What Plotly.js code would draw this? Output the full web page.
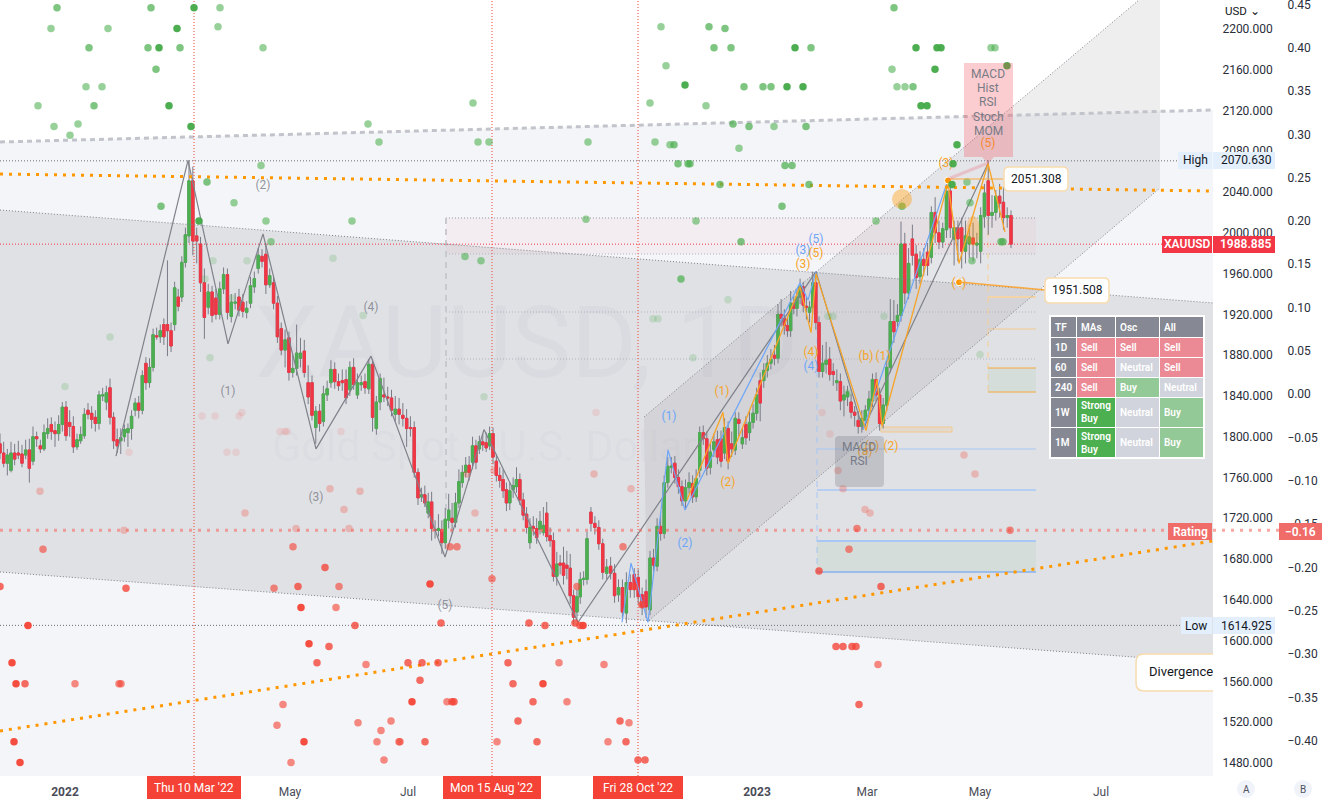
<!DOCTYPE html>
<html>
<head>
<meta charset="utf-8">
<title>XAUUSD 1D</title>
<script src="https://cdn.plot.ly/plotly-3.0.1.min.js"></script>
<style>
  html, body { margin: 0; padding: 0; background: #fff; overflow: hidden; }
  #chart { width: 1322px; height: 799px; }
</style>
</head>
<body>
<div id="chart"></div>
<script>
// candles, USD
const candleOpen = [
  1793,1784,1774,1767,1784,1784,1783,1782,1787,1776,1800,1791,1788,1803,1812,1806,1803,1812,1829,1814,
  1810,1790,1796,1801,1826,1823,1819,1813,1840,1834,1848,1819,1797,1796,1800,1804,1808,1826,1833,1826,
  1872,1853,1868,1899,1898,1910,1910,1904,1910,1937,1937,1971,1997,2051,1997,1989,1951,1927,1942,1936,
  1920,1945,1959,1918,1931,1937,1932,1922,1931,1947,1965,1977,1979,1949,1951,1931,1906,1885,1897,1863,
  1867,1877,1884,1853,1853,1809,1825,1815,1841,1853,1866,1854,1855,1856,1846,1868,1841,1851,1854,1847,
  1871,1808,1834,1841,1839,1838,1822,1827,1821,1818,1809,1809,1765,1741,1743,1725,1736,1709,1708,1709,
  1696,1718,1720,1716,1735,1755,1765,1772,1775,1791,1788,1795,1794,1791,1803,1776,1762,1758,1748,1735,
  1748,1751,1758,1738,1724,1696,1712,1710,1709,1706,1725,1703,1698,1663,1676,1676,1674,1671,1644,1628,
  1643,1660,1660,1726,1715,1711,1695,1666,1673,1666,1645,1652,1627,1657,1665,1662,1645,1648,1630,1681,
  1673,1712,1705,1755,1770,1774,1760,1751,1737,1750,1754,1741,1767,1804,1798,1770,1787,1797,1798,1784,
  1808,1793,1787,1817,1793,1812,1804,1814,1823,1855,1855,1865,1872,1880,1877,1920,1916,1909,1904,1931,
  1926,1937,1947,1928,1922,1927,1951,1912,1864,1871,1876,1864,1853,1854,1836,1839,1834,1824,1816,1810,
  1816,1826,1835,1856,1841,1813,1831,1868,1913,1913,1919,1989,1941,1994,1979,1957,1974,1981,1976,2020,
  2000,1991,2003,2041,1994,2005,2005,1982,1989,1995,1988,1982,2016,2051,2017,2020,2036,2030,2015,2017
];
const candleHigh = [
  1803,1795,1788,1795,1793,1796,1792,1797,1798,1810,1805,1797,1812,1818,1819,1815,1821,1834,1835,1826,
  1820,1803,1810,1828,1833,1830,1826,1845,1848,1850,1857,1824,1808,1808,1812,1813,1826,1838,1840,1865,
  1878,1877,1906,1907,1910,1916,1973,1912,1952,1945,1977,2005,2071,2065,2005,1996,1965,1950,1948,1945,
  1952,1966,1965,1940,1941,1945,1940,1933,1957,1962,1985,1984,1990,1965,1957,1938,1912,1905,1903,1880,
  1910,1897,1895,1870,1860,1830,1832,1850,1855,1875,1873,1862,1866,1866,1874,1877,1862,1860,1862,1876,
  1876,1840,1862,1858,1849,1846,1840,1838,1833,1827,1820,1815,1769,1750,1752,1745,1746,1718,1724,1718,
  1730,1744,1735,1745,1768,1772,1780,1781,1800,1797,1801,1803,1804,1810,1809,1783,1770,1768,1755,1755,
  1760,1770,1764,1745,1731,1720,1722,1720,1727,1731,1736,1711,1706,1687,1684,1692,1688,1685,1650,1650,
  1667,1668,1707,1731,1722,1718,1700,1680,1682,1675,1660,1660,1667,1665,1671,1670,1652,1660,1688,1690,
  1720,1723,1762,1780,1780,1781,1768,1757,1758,1765,1762,1768,1810,1811,1805,1793,1803,1806,1806,1818,
  1815,1805,1824,1824,1808,1820,1825,1832,1848,1863,1872,1880,1886,1890,1930,1935,1925,1917,1943,1938,
  1945,1955,1952,1937,1933,1962,1961,1918,1890,1893,1888,1872,1866,1862,1850,1850,1842,1830,1825,1826,
  1831,1845,1862,1863,1848,1838,1875,1935,1934,1930,2011,2000,1985,2008,1988,1982,1985,1990,2026,2035,
  2012,2010,2047,2051,2012,2012,2015,2012,2008,2010,2000,2025,2048,2071,2037,2042,2048,2045,2025,2022
];
const candleLow = [
  1778,1770,1762,1765,1772,1778,1770,1778,1755,1772,1790,1784,1786,1798,1797,1790,1796,1805,1796,1800,
  1784,1787,1793,1798,1817,1808,1805,1807,1835,1826,1812,1788,1784,1783,1795,1790,1797,1820,1818,1822,
  1846,1848,1864,1895,1892,1890,1879,1883,1904,1923,1932,1966,1990,1978,1970,1942,1896,1920,1912,1915,
  1915,1940,1915,1912,1925,1918,1917,1916,1926,1941,1960,1966,1940,1946,1925,1892,1880,1868,1855,1858,
  1860,1868,1858,1832,1816,1793,1805,1810,1835,1848,1847,1845,1845,1832,1840,1846,1837,1845,1842,1842,
  1805,1802,1826,1834,1830,1820,1815,1812,1810,1790,1800,1760,1733,1736,1731,1720,1698,1700,1702,1685,
  1690,1710,1705,1711,1730,1750,1760,1757,1768,1768,1783,1786,1785,1787,1773,1756,1750,1740,1727,1728,
  1740,1745,1733,1718,1705,1690,1703,1695,1704,1703,1697,1692,1658,1654,1665,1655,1660,1636,1616,1620,
  1636,1654,1655,1707,1704,1689,1660,1660,1660,1637,1638,1622,1617,1642,1642,1636,1625,1622,1625,1668,
  1668,1698,1700,1750,1764,1754,1744,1732,1730,1744,1735,1736,1760,1792,1762,1763,1780,1773,1770,1778,
  1768,1780,1782,1800,1788,1792,1796,1808,1816,1815,1848,1858,1866,1870,1872,1908,1900,1898,1898,1920,
  1918,1930,1922,1915,1912,1920,1905,1858,1858,1862,1855,1850,1845,1826,1820,1830,1818,1810,1803,1804,
  1810,1820,1829,1835,1806,1808,1825,1863,1892,1908,1913,1930,1935,1968,1945,1950,1958,1958,1970,1990,
  1984,1985,1995,1995,1968,1972,1965,1970,1975,1972,1975,1970,2005,1998,2005,2012,2015,2003,2005,1985
];
const candleClose = [
  1784,1774,1782,1784,1778,1782,1774,1787,1769,1800,1798,1788,1804,1808,1805,1803,1812,1829,1801,1810,
  1790,1797,1802,1822,1822,1817,1813,1841,1841,1843,1819,1796,1791,1799,1807,1808,1820,1833,1826,1860,
  1853,1868,1900,1898,1904,1898,1904,1889,1946,1928,1971,1998,2051,1992,1992,1951,1917,1942,1919,1920,
  1945,1959,1922,1932,1932,1924,1923,1926,1948,1955,1978,1972,1949,1958,1931,1898,1885,1895,1863,1867,
  1882,1882,1863,1839,1821,1825,1813,1842,1847,1866,1854,1850,1853,1838,1868,1851,1853,1853,1848,1871,
  1819,1834,1857,1839,1838,1826,1827,1822,1818,1808,1808,1765,1740,1743,1735,1736,1710,1708,1710,1696,
  1719,1728,1716,1735,1756,1765,1772,1765,1791,1775,1795,1792,1789,1803,1780,1762,1757,1747,1735,1747,
  1752,1758,1738,1723,1711,1711,1710,1701,1717,1713,1702,1698,1663,1675,1674,1664,1671,1644,1623,1643,
  1660,1661,1700,1715,1711,1695,1667,1672,1666,1644,1652,1628,1657,1650,1650,1643,1633,1633,1681,1674,
  1712,1705,1755,1771,1771,1760,1751,1737,1750,1755,1741,1759,1804,1798,1769,1785,1795,1780,1776,1809,
  1776,1788,1818,1813,1799,1799,1814,1823,1841,1833,1865,1872,1876,1877,1920,1916,1909,1904,1931,1926,
  1937,1947,1929,1927,1927,1951,1912,1864,1872,1875,1861,1861,1855,1835,1841,1844,1824,1821,1810,1818,
  1826,1837,1856,1841,1813,1831,1868,1913,1903,1919,1989,1941,1970,1978,1956,1974,1968,1968,2020,2000,
  1991,2004,2041,2005,2005,1994,1982,1997,1996,1989,1990,2017,2039,2017,2020,2036,2029,2015,2017,1988.885
];
// candle number -> time slot where the chart has anchors (holidays make the spacing uneven)
const anchorCandle = [0,30,52,84,112,134,162,178,198,214,227,250,279];
const anchorSlot = [0,27.5,47.25,78,104.5,123.25,146.75,162.5,180.25,194.5,204.75,225.25,252.75];

// time axis labels
const timeTickSlot = [16.25,72.5,102,189.25,216.75,245,275.25];
const timeTickText = ['<b>2022</b>','May','Jul','<b>2023</b>','Mar','May','Jul'];
const markedDateSlot = [48.5,123,159.5];
const markedDateText = ["Thu 10 Mar '22","Mon 15 Aug '22","Fri 28 Oct '22"];

const priceTicks = [2200,2160,2120,2080,2040,2000,1960,1920,1880,1840,1800,1760,1720,1680,1640,1600,1560,1520,1480];
const ratingTicks = [0.45,0.4,0.35,0.3,0.25,0.2,0.15,0.1,0.05,0,-0.05,-0.1,-0.15,-0.2,-0.25,-0.3,-0.35,-0.4];

const highPrice = 2070.63;
const lowPrice = 1614.925;
const lastPrice = 1988.885;
const ratingNow = -0.157;

// wave lines
const grayWaveSlot = [29,47,57,65.75,79,92.75,111.25,121,144.5,204,215.75,247];
const grayWaveUsd = [1781,2071,1891,1999,1788,1879,1682,1807,1618,1962,1807,2068];
const blueWaveSlot = [155.5,157.75,162,167,171.25,200,202,204];
const blueWaveUsd = [1618,1676,1618,1787,1728,1951,1934,1962];
const blueWave2Slot = [215.75,236.75];
const blueWave2Usd = [1807,2049];
const orangeWaveSlot = [171.75,180.75,182,200,202.75,204,216.5,219.25,220.5,237,239.75,247,251.25];
const orangeWaveUsd = [1738,1824,1774,1947,1902,1960,1806,1856,1810,2049,1970,2068,2001];

const grayLabels = ['(1)','(2)','(3)','(4)','(5)'];
const grayLabelSlot = [57,65.75,79,92.75,111.25];
const grayLabelUsd = [1844,2046,1740,1926,1634];
const blueLabels = ['(1)','(2)','(3)','(4)','(5)'];
const blueLabelSlot = [167.25,171.25,200.75,202.75,204];
const blueLabelUsd = [1819,1695,1982,1868,1993];
const orangeLabels = ['(1)','(2)','(3)','(4)','(5)','(a)','(b)','(c)','(1)','(2)','(3)','(4)','(5)'];
const orangeLabelSlot = [180.5,182,200.75,202.75,204,216.25,216.5,218,220.75,222.75,236.5,239.75,247];
const orangeLabelUsd = [1844,1755,1968,1882,1979,1785,1878,1790,1878,1790,2068,1950,2087];

// long trend lines
const slotEnds = [0,303.25];
const ceilingUsd = [2089.1,2120.5];
const fallingTopUsd = [2022.4,1931.2];
const fallingBottomUsd = [1667.3,1578];
const resistanceUsd = [2057.7,2041];
const supportUsd = [1511.3,1697.7];
const risingTopSlot = [161,284.75];
const risingTopUsd = [1819.3,2228.4];
const risingBottomSlot = [161.75,290];
const risingBottomUsd = [1618.2,2044];

// rating signals, split by signal strength
const buyStrongSlot = [48.5,44.25,39.75,42.25,47.75,49.75,198.75,229,234.25,235.25,233.75,251.75,196.75,200.75,230.25,231.75,238.25,239.25,238,171.25];
const buyStrongRating = [.446,.422,.4,.333,.309,.2,.4,.4,.4,.4,.375,.379,.355,.355,.333,.333,.266,.288,.242,.357];
const buyMidSlot = [14.25,37.75,22.25,37,45,39,23.5,51.75,40.25,177.25,181.25,178.5,182.75,202.75,186,190.75,192.75,228.25,183.25,187.25,201.5,168.5,169.5,172,172.5,196.25,198,180,202.25,195.5,225.5,223.5,250.25,250.75,185.25,170.25];
const buyMidRating = [.446,.446,.4,.4,.4,.375,.333,.245,.217,.424,.422,.4,.4,.4,.355,.355,.355,.355,.312,.309,.309,.288,.266,.266,.266,.264,.264,.242,.242,.217,.217,.446,.176,.176,.176,.133];
const buyLightSlot = [55,12.75,27,54.5,65.75,21.5,25.5,9.5,13.5,19.5,17.5,92,94.75,118.25,119.5,122.25,65.25,58.5,66.5,88,67.75,165.25,166.5,223,224.25,226.25,162.5,176.5,193.5,147,163.75,167.5,184.75,247.75,248.75,241.75,242.5,146.5,174,219,243,116.25,120.25];
const buyLightRating = [.446,.422,.422,.424,.4,.355,.355,.333,.309,.312,.299,.312,.291,.336,.291,.291,.264,.221,.2,.2,.176,.424,.379,.375,.355,.355,.336,.333,.309,.291,.291,.288,.284,.4,.4,.245,.221,.202,.2,.2,.154,.159,.154];
const buyFaintSlot = [53.25,61.75,83.25,51.25,58,90.75,182,163.25,164.5,27.5,52.5,173.25,207,208.25,221,16.25,121,212,245];
const buyFaintRating = [.154,.154,.157,.133,.111,.091,.109,.087,.087,.066,.042,.042,.09,.09,.09,.009,-.003,.002,.046];

const sellStrongSlot = [3.5,5,76,77.25,75.25,103,107.5,145.75,7,3,4,135.75];
const sellStrongRating = [-.401,-.425,-.401,-.288,-.246,-.355,-.219,-.267,-.267,-.31,-.334,-.334];
const sellMidSlot = [81.25,0,31.5,74.5,88.75,110.25,132.25,136.25,143.75,145,82.25,79.25,102,105.5,109.5,127,6.25,105,128.25,113,113.5,133.25,129.5,155,106.25,134.25,156.5,159.5,161.25,160.5,204.75,209,210.75,213,214,214.75,220.25];
const sellMidRating = [-.2,-.222,-.224,-.222,-.267,-.264,-.264,-.267,-.264,-.267,-.291,-.31,-.31,-.31,-.31,-.31,-.334,-.33,-.334,-.355,-.355,-.355,-.377,-.377,-.401,-.401,-.401,-.422,-.422,-.243,-.204,-.291,-.291,-.291,-.291,-.358,-.222];
const sellLightSlot = [73.25,10.75,68.5,84.75,84,91.5,139.75,151,18.75,29.75,30.25,70.75,111.75,141.75,97.75,89.5,157.25,69.25,95.25,94.25,99.75,100,124.25,152,72.75,96,112.5,114.25,155.75,123,144.25,158.5,214.25,212.25,252.5,219.5];
const sellLightRating = [-.176,-.179,-.224,-.222,-.246,-.312,-.31,-.312,-.334,-.334,-.334,-.358,-.355,-.355,-.377,-.379,-.379,-.382,-.388,-.401,-.401,-.401,-.401,-.401,-.425,-.422,-.176,-.176,-.176,-.213,-.222,-.222,-.155,-.179,-.157,-.312];
const sellFaintSlot = [10,82.5,90,61.25,86,74,87.25,31,148.5,157.75,118.75,116.75,123.5,210.75,216.25,217.5,209.5,241,243.75];
const sellFaintRating = [-.112,-.109,-.112,-.137,-.133,-.155,-.155,-.157,-.092,-.109,-.137,-.092,-.088,-.109,-.133,-.137,-.088,-.07,-.092];
const sellTraceSlot = [32.25,50.5,53.75,59.75,60.5,70,71.25,71.75,85.25,56.75,59,149,205.5,207.5];
const sellTraceRating = [-.067,-.025,-.025,-.025,-.021,-.043,-.043,-.043,-.043,-.067,-.067,-.021,-.021,-.046];

// technical ratings table
const tableHead = ['TF','MAs','Osc','All'];
const tableFrames = ['1D','60','240','1W','1M'];
const tableMAs = ['Sell','Sell','Sell','Strong<br>Buy','Strong<br>Buy'];
const tableOsc = ['Sell','Neutral','Buy','Neutral','Neutral'];
const tableAll = ['Sell','Sell','Neutral','Buy','Buy'];
const ratingColors = {'Sell':'#eb8a94','Neutral':'#d1d4dc','Buy':'#93c997','Strong<br>Buy':'#4caf50'};

// ---- scale helpers (pixels -> axis units)
const W = 1322, H = 799, plotRight = 1213, plotBottom = 776;
const toSlot = px => px / 4;
const toUsd = py => 2228.4 - 0.981 * py;
const paperX = px => px / W;
const paperY = py => 1 - py / H;
const priceRange = [toUsd(plotBottom), toUsd(0)];
const ratingRange = [-0.4406, 0.455];
const textFont = 'Roboto, "Liberation Sans", sans-serif';

function slotOfCandle(i) {
  let k = 0;
  while (k < anchorCandle.length - 2 && i > anchorCandle[k + 1]) k++;
  const t = (i - anchorCandle[k]) / (anchorCandle[k + 1] - anchorCandle[k]);
  return anchorSlot[k] + t * (anchorSlot[k + 1] - anchorSlot[k]);
}
const candleSlot = candleOpen.map((_, i) => slotOfCandle(i));

var shapes = [];
var annotations = [];

function dataPoly(points, fill, layer) {
  const d = points.map((p, i) => (i ? 'L' : 'M') + toSlot(p[0]) + ',' + toUsd(p[1])).join(' ') + ' Z';
  shapes.push({type:'path', xref:'x', yref:'y', path:d, fillcolor:fill, line:{width:0}, layer:layer || 'below'});
}
function dataRect(x0, y0, x1, y1, fill, border, layer) {
  shapes.push({type:'rect', xref:'x', yref:'y', x0:toSlot(x0), x1:toSlot(x1), y0:toUsd(y0), y1:toUsd(y1),
    fillcolor:fill, line:{width:border ? 1 : 0, color:border || 'rgba(0,0,0,0)'}, layer:layer || 'below'});
}
function dataLine(x0, y0, x1, y1, color, width, dash, layer) {
  shapes.push({type:'line', xref:'x', yref:'y', x0:toSlot(x0), x1:toSlot(x1), y0:toUsd(y0), y1:toUsd(y1),
    line:{color:color, width:width, dash:dash || 'solid'}, layer:layer || 'below'});
}
function pageRect(x0, y0, x1, y1, fill, border, radius) {
  const a = paperX(x0), b = paperX(x1), c = paperY(y0), d = paperY(y1);
  const rx = (radius || 0) / W, ry = (radius || 0) / H;
  const path = radius
    ? `M${a + rx},${c} L${b - rx},${c} Q${b},${c} ${b},${c - ry} L${b},${d + ry} Q${b},${d} ${b - rx},${d} L${a + rx},${d} Q${a},${d} ${a},${d + ry} L${a},${c - ry} Q${a},${c} ${a + rx},${c} Z`
    : `M${a},${c} L${b},${c} L${b},${d} L${a},${d} Z`;
  shapes.push({type:'path', xref:'paper', yref:'paper', path:path, fillcolor:fill,
    line:{width:border ? 1.5 : 0, color:border || 'rgba(0,0,0,0)'}, layer:'above'});
}
// box cut off by the right edge of the plot: rounded on the left only, no stroke on the right
function pageTab(x0, y0, x1, y1, fill, border, radius) {
  const a = paperX(x0), b = paperX(x1), c = paperY(y0), d = paperY(y1);
  const rx = radius / W, ry = radius / H;
  const outline = `M${b},${c} L${a + rx},${c} Q${a},${c} ${a},${c - ry} L${a},${d + ry} Q${a},${d} ${a + rx},${d} L${b},${d}`;
  shapes.push({type:'path', xref:'paper', yref:'paper', path:outline + ' Z', fillcolor:fill, line:{width:0}, layer:'above'});
  shapes.push({type:'path', xref:'paper', yref:'paper', path:outline, line:{width:1.5, color:border}, layer:'above'});
}
function pageText(text, px, py, size, color, anchor, weight) {
  annotations.push({text:text, xref:'paper', yref:'paper', x:paperX(px), y:paperY(py), showarrow:false,
    xanchor:anchor || 'center', yanchor:'middle', align:anchor || 'center', borderpad:0, captureevents:false,
    font:{family:textFont, size:size, color:color, weight:weight || 400}});
}

// ---- backgrounds
dataPoly([[0,0],[1213,0],[1213,110],[0,142]], '#ffffff');
dataPoly([[0,210],[1213,303],[1213,663],[0,572]], '#e0e1e5');
dataPoly([[644,417],[1139,0],[1160,0],[1160,188],[647,622]], 'rgba(120,123,134,0.13)');
dataRect(446, 218, 1036, 254, 'rgba(242,54,69,0.04)');
dataLine(446, 218, 1036, 218, '#9598a1', 1, '1px,2px');
dataLine(446, 254, 1036, 254, '#b2b5be', 1, '1px,2px');
dataLine(446, 312, 1036, 312, '#b2b5be', 1, '1px,2px');
dataLine(446, 359, 1036, 359, '#b2b5be', 1, '1px,2px');
dataLine(446, 218, 446, 510, '#c8cad0', 2, '6px,5px');

// target boxes of the two position tools
dataLine(817, 272, 817, 572, '#a8c7f5', 1, '6px,5px');
dataLine(817, 449, 1036, 449, '#a8c7f5', 1);
dataLine(817, 490, 1036, 490, '#a8c7f5', 1.5);
dataRect(817, 541, 1036, 572, 'rgba(76,175,80,0.08)');
dataLine(817, 541, 1036, 541, '#a8c7f5', 2);
dataLine(817, 572, 1036, 572, '#5b9cf6', 1);
dataLine(988, 165, 988, 392, '#f7cf94', 1, '6px,5px');
dataLine(988, 297, 1036, 297, '#f3d4a8', 2);
dataLine(988, 329, 1036, 329, '#f3c98f', 1);
dataRect(988, 368, 1036, 392, 'rgba(76,175,80,0.08)');
dataLine(988, 368, 1036, 368, '#f8a83c', 1);
dataLine(988, 392, 1036, 392, '#f8a83c', 1);
dataRect(881, 427, 952, 432, 'rgba(255,152,0,0.1)', '#f3c98f');

// price lines
function priceLine(usd, pxEnd, color) {
  shapes.push({type:'line', xref:'x', yref:'y', x0:0, x1:toSlot(pxEnd), y0:usd, y1:usd,
    line:{color:color, width:1, dash:'1px,2px'}, layer:'below'});
}
priceLine(highPrice, 1178, '#6a6d78');
priceLine(lowPrice, 1181, '#6a6d78');
priceLine(lastPrice, 1162, '#f23645');
// rating line, the part that runs on between the two scales
shapes.push({type:'line', xref:'paper', yref:'y2', x0:plotRight / W, x1:1, y0:ratingNow, y1:ratingNow,
  line:{color:'rgba(244,110,100,0.6)', width:3, dash:'3px,6px'}, layer:'below'});

// highlight circles
shapes.push({type:'circle', xref:'x', yref:'y', x0:toSlot(892), x1:toSlot(912), y0:toUsd(189), y1:toUsd(209),
  fillcolor:'rgba(255,152,0,0.4)', line:{width:0}, layer:'above'});
shapes.push({type:'circle', xref:'x', yref:'y', x0:toSlot(966), x1:toSlot(980), y0:toUsd(216), y1:toUsd(246),
  fillcolor:'rgba(255,152,0,0.3)', line:{width:0}, layer:'above'});

// watermark
pageText('XAUUSD, 1D', 526, 342, 100, 'rgba(120,123,134,0.05)');
pageText('Gold Spot / U.S. Dollar', 484, 446, 43, 'rgba(120,123,134,0.05)');

// signal boxes on the chart
dataPoly([[964,63],[1013,63],[1013,157],[994,157],[988,163],[982,157],[964,157]], 'rgba(242,54,69,0.25)', 'above');
['MACD','Hist','RSI','Stoch','MOM'].forEach((t, i) => pageText(t, 988, 74 + i * 14.2, 12, '#787b86'));
pageRect(835, 436, 884, 487, 'rgba(120,123,134,0.3)', null, 4);
pageText('MACD', 859, 447, 12, '#787b86');
pageText('RSI', 859, 461, 12, '#787b86');

// callouts
dataLine(948, 179, 1003, 179, '#f8a83c', 1, 'solid', 'above');
dataLine(959, 282, 1045, 290, '#f8a83c', 1.5, 'solid', 'above');
dataLine(948, 179, 988, 163, 'rgba(242,54,69,0.2)', 3, 'solid', 'above');
pageRect(1004, 167, 1068, 191, '#ffffff', '#f8dcae', 5);
pageText('2051.308', 1036, 179, 12, '#131722');
pageRect(1045, 278, 1109, 303, '#ffffff', '#f8dcae', 5);
pageText('1951.508', 1077, 290.5, 12, '#131722');
pageTab(1136, 654, 1213, 691, '#ffffff', '#f8dcae', 8);
pageText('Divergence', 1148, 671, 13, '#131722', 'left');

// axis labels on the right
pageRect(1178, 152, 1212, 169, '#e3effd');
pageText('High', 1195, 160.5, 12, '#131722');
pageRect(1213, 152, 1275, 169, '#e3effd');
pageText(highPrice.toFixed(3), 1246, 160.5, 12, '#131722');
pageRect(1181, 617, 1212, 634, '#e3effd');
pageText('Low', 1196, 625.5, 12, '#131722');
pageRect(1213, 617, 1275, 634, '#e3effd');
pageText(lowPrice.toFixed(3), 1246, 625.5, 12, '#131722');
pageRect(1162, 236, 1212, 253, '#f23645');
pageText('XAUUSD', 1187, 244.5, 12, '#ffffff', 'center', 600);
pageRect(1213, 236, 1275, 253, '#f23645');
pageText(lastPrice.toFixed(3), 1246, 244.5, 12, '#ffffff', 'center', 600);
pageRect(1168, 523, 1212, 540, '#ef6c69');
pageText('Rating', 1190, 531.5, 12, '#ffffff', 'center', 600);
pageRect(1279, 523, 1322, 540, '#ef6c69');
pageText('\u22120.16', 1300, 531.5, 12, '#ffffff', 'center', 600);
pageText('USD \u2304', 1224, 11, 11.5, '#131722', 'left');

// dates under the axis
markedDateSlot.forEach((s, i) => {
  const cx = s * 4, half = [47, 49, 45][i];
  pageRect(cx - half, 776, cx + half, 799, '#f44336');
  pageText(markedDateText[i], cx, 788, 12, '#ffffff');
});

// A / B buttons
[['A',1246],['B',1303]].forEach(b => {
  shapes.push({type:'circle', xref:'paper', yref:'paper', x0:paperX(b[1] - 9), x1:paperX(b[1] + 9),
    y0:paperY(798), y1:paperY(780), fillcolor:'#f0f3fa', line:{width:0}, layer:'above'});
  pageText(b[0], b[1], 789.5, 10, '#50535e');
});

// ratings table
pageRect(1049, 315, 1205, 459, '#ffffff');
const colEdges = [[1051,1076],[1077,1115],[1116,1159],[1160,1203]];
const rowEdges = [[317,337],[338,357],[358,377],[378,397],[398,427],[428,457]];
function tableCell(col, row, text, fill) {
  const c = colEdges[col], r = rowEdges[row];
  pageRect(c[0], r[0], c[1], r[1], fill);
  pageText(text, c[0] + 3, (r[0] + r[1]) / 2, 10, '#ffffff', 'left', 600);
}
tableHead.forEach((t, c) => tableCell(c, 0, t, '#868993'));
tableFrames.forEach((t, r) => {
  tableCell(0, r + 1, t, '#868993');
  tableCell(1, r + 1, tableMAs[r], ratingColors[tableMAs[r]]);
  tableCell(2, r + 1, tableOsc[r], ratingColors[tableOsc[r]]);
  tableCell(3, r + 1, tableAll[r], ratingColors[tableAll[r]]);
});

// ---- traces
const UP = '#4caf50', DOWN = '#f23645', WICK = '#787b86';

function trendTrace(slots, usds, color, width, dash) {
  return {type:'scatter', mode:'lines', x:slots, y:usds, hoverinfo:'skip', showlegend:false,
    line:{color:color, width:width, dash:dash}};
}
function labelTrace(slots, usds, texts, color) {
  return {type:'scatter', mode:'text', x:slots, y:usds, text:texts, hoverinfo:'skip', showlegend:false,
    textposition:'middle center', textfont:{family:textFont, size:12, color:color}};
}
function dotTrace(slots, ratings, color) {
  return {type:'scatter', mode:'markers', x:slots, y:ratings, yaxis:'y2', hoverinfo:'skip', showlegend:false,
    marker:{size:7.5, color:color, line:{width:0}}};
}
function eventTrace(slot) {
  return trendTrace([slot, slot], priceRange, '#f44336', 1, '1px,2px');
}

const traces = [
  trendTrace(slotEnds, fallingTopUsd, '#7d8089', 1, '1px,2px'),
  trendTrace(slotEnds, fallingBottomUsd, '#7d8089', 1, '1px,2px'),
  trendTrace(risingTopSlot, risingTopUsd, '#7d8089', 1, '1px,2px'),
  trendTrace(risingBottomSlot, risingBottomUsd, '#7d8089', 1, '1px,2px'),
  trendTrace(slotEnds, ceilingUsd, '#c2c4cb', 3, '5px,4px'),
  ...markedDateSlot.map(eventTrace),
  // wicks first, gray, then the bodies on top
  {type:'candlestick', x:candleSlot, open:candleOpen, high:candleHigh, low:candleLow, close:candleClose,
    hoverinfo:'skip', showlegend:false, whiskerwidth:0,
    increasing:{line:{color:WICK, width:1}, fillcolor:WICK},
    decreasing:{line:{color:WICK, width:1}, fillcolor:WICK}},
  {type:'candlestick', x:candleSlot, open:candleOpen, close:candleClose,
    high:candleOpen.map((o, i) => Math.max(o, candleClose[i])),
    low:candleOpen.map((o, i) => Math.min(o, candleClose[i])),
    hoverinfo:'skip', showlegend:false, whiskerwidth:0,
    increasing:{line:{color:UP, width:1}, fillcolor:UP},
    decreasing:{line:{color:DOWN, width:1}, fillcolor:DOWN}},
  trendTrace(grayWaveSlot, grayWaveUsd, '#7f828b', 1.2, 'solid'),
  trendTrace(blueWaveSlot, blueWaveUsd, '#6ea6f7', 1.2, 'solid'),
  trendTrace(blueWave2Slot, blueWave2Usd, '#6ea6f7', 1.2, 'solid'),
  trendTrace(orangeWaveSlot, orangeWaveUsd, '#f7a427', 1.3, 'solid'),
  trendTrace(slotEnds, resistanceUsd, '#ff9800', 3, '3px,6px'),
  trendTrace(slotEnds, supportUsd, '#ff9800', 3, '3px,6px'),
  labelTrace(grayLabelSlot, grayLabelUsd, grayLabels, 'rgba(120,123,134,0.8)'),
  labelTrace(blueLabelSlot, blueLabelUsd, blueLabels, '#6ea6f7'),
  labelTrace(orangeLabelSlot, orangeLabelUsd, orangeLabels, '#f7a427'),
  // rating level and the signals on the rating scale
  {type:'scatter', mode:'lines', x:slotEnds, y:[ratingNow, ratingNow], yaxis:'y2', hoverinfo:'skip', showlegend:false,
    line:{color:'rgba(244,110,100,0.6)', width:3, dash:'3px,6px'}},
  dotTrace(buyStrongSlot, buyStrongRating, 'rgba(67,170,72,0.95)'),
  dotTrace(buyMidSlot, buyMidRating, 'rgba(76,175,80,0.72)'),
  dotTrace(buyLightSlot, buyLightRating, 'rgba(76,175,80,0.58)'),
  dotTrace(buyFaintSlot, buyFaintRating, 'rgba(76,175,80,0.22)'),
  dotTrace(sellStrongSlot, sellStrongRating, 'rgba(244,67,54,0.95)'),
  dotTrace(sellMidSlot, sellMidRating, 'rgba(244,67,54,0.78)'),
  dotTrace(sellLightSlot, sellLightRating, 'rgba(244,67,54,0.62)'),
  dotTrace(sellFaintSlot, sellFaintRating, 'rgba(244,67,54,0.28)'),
  dotTrace(sellTraceSlot, sellTraceRating, 'rgba(244,67,54,0.12)'),
  // orange anchor points of the callouts
  {type:'scatter', mode:'markers', x:[toSlot(948), toSlot(959)], y:[2051.308, 1951.508], hoverinfo:'skip', showlegend:false,
    marker:{size:7, color:'#ff9800', line:{color:'#ffffff', width:1}}}
];

const layout = {
  width: W,
  height: H,
  margin: {l:0, r:0, t:0, b:0},
  paper_bgcolor: '#ffffff',
  plot_bgcolor: '#f4f5f8',
  showlegend: false,
  boxmode: 'overlay',
  boxgap: 0.25,
  boxgroupgap: 0,
  font: {family:textFont, size:12, color:'#131722'},
  xaxis: {
    domain: [0, plotRight / W],
    range: [0, plotRight / 4],
    showgrid: false, zeroline: false, showline: false,
    rangeslider: {visible:false},
    tickmode: 'array', tickvals: timeTickSlot, ticktext: timeTickText,
    ticks: 'outside', ticklen: 5, tickcolor: 'rgba(0,0,0,0)',
    tickfont: {family:textFont, size:12, color:'#4a4d58'}
  },
  yaxis: {
    domain: [1 - plotBottom / H, 1],
    range: priceRange,
    side: 'right',
    showgrid: false, zeroline: false, showline: false,
    tickmode: 'array', tickvals: priceTicks, tickformat: '.3f',
    ticks: 'outside', ticklen: 6, tickcolor: 'rgba(0,0,0,0)',
    tickfont: {family:textFont, size:12, color:'#2a2e39'}
  },
  yaxis2: {
    domain: [1 - plotBottom / H, 1],
    range: ratingRange,
    overlaying: 'y',
    anchor: 'free',
    position: 1281 / W,
    side: 'right',
    showgrid: false, zeroline: false, showline: false,
    ticklabeloverflow: 'allow',
    tickmode: 'array', tickvals: ratingTicks, tickformat: '.2f',
    ticks: 'outside', ticklen: 3, tickcolor: 'rgba(0,0,0,0)',
    tickfont: {family:textFont, size:12, color:'#2a2e39'}
  },
  shapes: shapes,
  annotations: annotations
};

Plotly.newPlot('chart', traces, layout, {displayModeBar:false, staticPlot:true});
</script>
</body>
</html>
